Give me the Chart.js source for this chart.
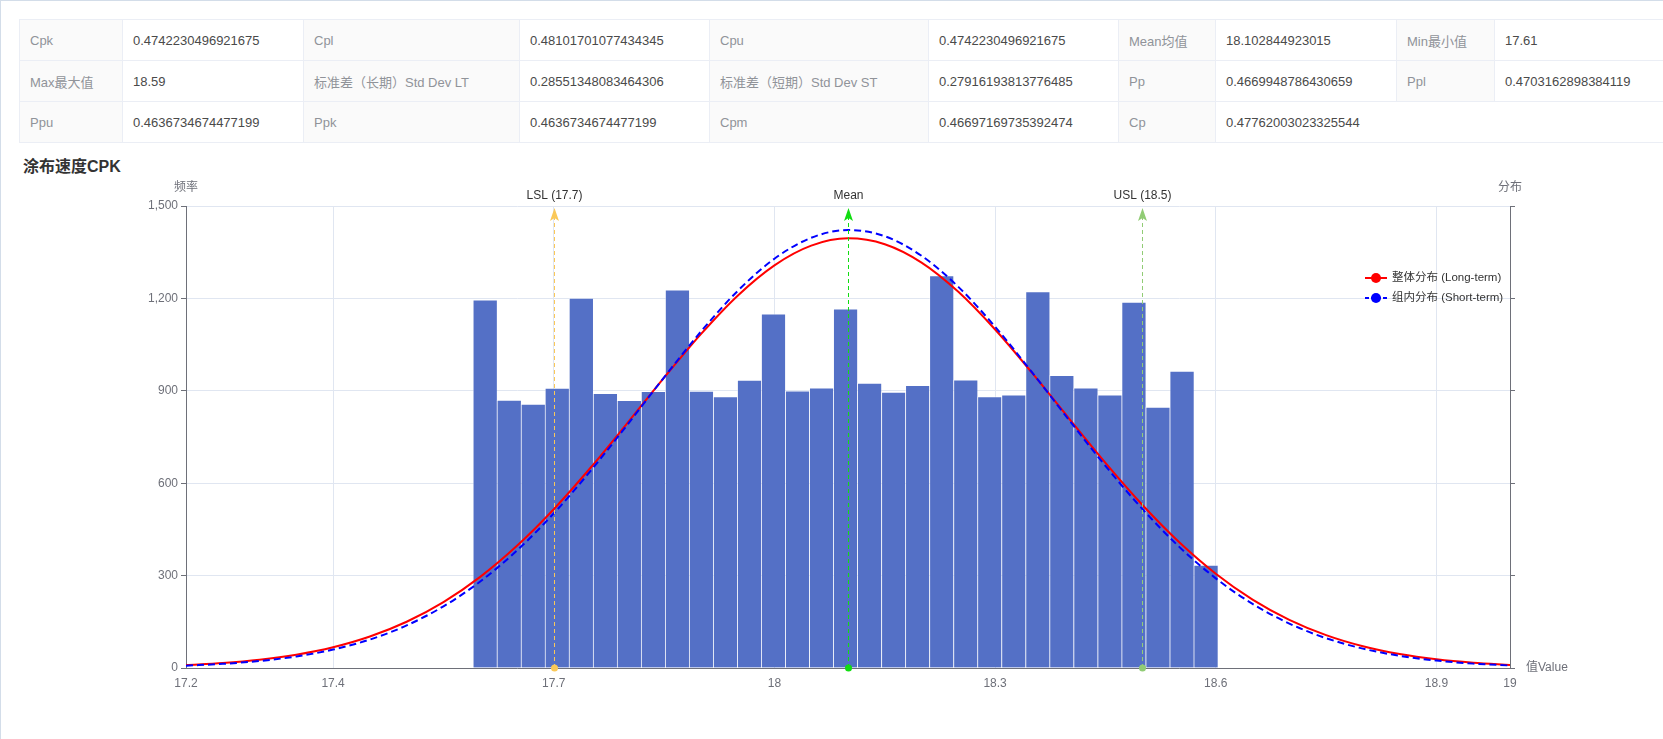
<!DOCTYPE html>
<html><head><meta charset="utf-8">
<script src="https://cdn.jsdelivr.net/npm/chart.js@4.4.0/dist/chart.umd.min.js"></script>
<style>
html,body{margin:0;padding:0;background:#fff;width:1663px;height:739px;overflow:hidden;}
body{font-family:"Liberation Sans","Noto Sans CJK SC",sans-serif;}
#frame{position:absolute;left:0;top:0;width:1663px;height:739px;border-left:1px solid #d3dde9;border-top:1px solid #d3dde9;box-sizing:border-box;}
#stats{position:absolute;left:19px;top:19px;border-collapse:collapse;table-layout:fixed;width:1645px;font-size:13px;}
#stats td{border:1px solid #ebeef5;height:41px;padding:0 10px;white-space:nowrap;overflow:hidden;box-sizing:border-box;}
#stats td.k{background:#fafafa;color:#909399;}
#stats td.v{background:#fff;color:#4a4a4a;}
#title{position:absolute;left:23px;top:156px;font-size:16px;font-weight:bold;color:#333;line-height:22px;}
#c{position:absolute;left:0;top:150px;}
</style></head>
<body>
<div id="frame"></div>
<table id="stats"></table>
<div id="title">涂布速度CPK</div>
<canvas id="c" width="1663" height="589"></canvas>
<script>
// ---- table data ----
const statNames = ['Cpk','Cpl','Cpu','Mean均值','Min最小值',
  'Max最大值','标准差（长期）Std Dev LT','标准差（短期）Std Dev ST','Pp','Ppl',
  'Ppu','Ppk','Cpm','Cp'];
const statValues = ['0.4742230496921675','0.48101701077434345','0.4742230496921675','18.102844923015','17.61',
  '18.59','0.28551348083464306','0.27916193813776485','0.4669948786430659','0.4703162898384119',
  '0.4636734674477199','0.4636734674477199','0.46697169735392474','0.47762003023325544'];
const rowSizes = [5,5,4];
const colWidths = [103,181,216,190,219,190,97,181,98,170];

// ---- chart data ----
const binCenters = [17.6063,17.6390,17.6717,17.7043,17.7370,17.7697,17.8023,17.8350,17.8677,17.9003,
  17.9330,17.9657,17.9983,18.0310,18.0637,18.0963,18.1290,18.1617,18.1943,18.2270,
  18.2597,18.2923,18.3250,18.3577,18.3903,18.4230,18.4557,18.4883,18.5210,18.5537,18.5863];
const binCounts = [1195,870,857,909,1201,892,869,898,1228,899,
  881,935,1150,900,910,1166,925,896,918,1274,
  936,881,887,1222,950,910,887,1188,847,964,334];
const curveX = [17.2,17.25,17.3,17.35,17.4,17.45,17.5,17.55,17.6,17.65,17.7,17.75,17.8,17.85,17.9,17.95,
  18.0,18.05,18.1,18.15,18.2,18.25,18.3,18.35,18.4,18.45,18.5,18.55,18.6,18.65,18.7,18.75,18.8,18.85,18.9,18.95,19.0];
const longTerm = [9.4,16.1,26.8,43.2,67.4,102.2,150.2,214.0,295.9,396.7,515.6,650.1,794.9,942.6,1083.9,1208.9,
  1307.4,1371.3,1395.0,1376.0,1316.4,1221.4,1099.0,958.9,811.5,666.0,530.0,409.1,306.2,222.3,156.5,106.8,70.7,45.4,28.3,17.1,10.0];
const shortTerm = [7.6,13.4,22.8,37.5,59.8,92.4,138.2,200.2,280.8,381.6,502.1,639.8,789.6,943.7,1092.2,1224.2,
  1328.8,1396.8,1422.0,1401.8,1338.3,1237.4,1108.0,960.8,806.8,656.1,516.8,394.1,291.1,208.2,144.3,96.8,62.9,39.6,24.1,14.2,8.1];
const xTicks = [17.2,17.4,17.7,18,18.3,18.6,18.9,19];
const yTicks = [0,300,600,900,1200,1500];
const specValues = [17.7,18.1,18.5];
const specLabels = ['LSL (17.7)','Mean','USL (18.5)'];
const specColors = ['#fac858','#11dd11','#91cc75'];
const seriesNames = ['整体分布 (Long-term)','组内分布 (Short-term)'];
const axisNames = {y:'频率', y2:'分布', x:'值Value'};

// ---- build table ----
(function(){
  const t = document.getElementById('stats');
  const cg = document.createElement('colgroup');
  colWidths.forEach(w=>{const c=document.createElement('col');c.style.width=w+'px';cg.appendChild(c);});
  t.appendChild(cg);
  let idx=0;
  rowSizes.forEach(n=>{
    const tr=document.createElement('tr');
    for(let j=0;j<n;j++){
      const k=document.createElement('td');k.className='k';k.textContent=statNames[idx];
      const v=document.createElement('td');v.className='v';v.textContent=statValues[idx];
      if(n<5 && j===n-1) v.colSpan = 1 + (5-n)*2;
      tr.appendChild(k);tr.appendChild(v);idx++;
    }
    t.appendChild(tr);
  });
})();

const FONT = '"Liberation Sans","Noto Sans CJK SC",sans-serif';
Chart.defaults.font.family = FONT;
Chart.defaults.font.size = 12;

const overlay = {
  id:'overlay',
  afterDatasetsDraw(chart){
    const {ctx, chartArea:a, scales:{x}} = chart;
    ctx.save();
    specValues.forEach((v,i)=>{
      const px = Math.round(x.getPixelForValue(v))+0.5;
      const col = specColors[i];
      ctx.strokeStyle = col; ctx.lineWidth = 1; ctx.setLineDash([4,3]);
      ctx.beginPath(); ctx.moveTo(px,a.bottom); ctx.lineTo(px,a.top+12); ctx.stroke();
      ctx.setLineDash([]);
      ctx.fillStyle = col;
      ctx.beginPath();
      ctx.moveTo(px,a.top+2); ctx.lineTo(px+4.5,a.top+15); ctx.lineTo(px,a.top+12); ctx.lineTo(px-4.5,a.top+15);
      ctx.closePath(); ctx.fill();
      ctx.beginPath(); ctx.arc(px,a.bottom,3.5,0,Math.PI*2); ctx.fill();
      ctx.fillStyle = '#333'; ctx.font = '12px '+FONT;
      ctx.textAlign='center'; ctx.textBaseline='middle';
      ctx.fillText(specLabels[i], px, a.top-10);
    });
    // axis names
    ctx.fillStyle = '#6e7079'; ctx.font = '12px '+FONT; ctx.textBaseline='middle';
    ctx.textAlign='center';
    ctx.fillText(axisNames.y, a.left, a.top-18);
    ctx.fillText(axisNames.y2, a.right, a.top-18);
    ctx.textAlign='left';
    ctx.fillText(axisNames.x, a.right+16, a.bottom);
    // legend
    const x0 = a.right-145;
    const ds = chart.data.datasets;
    ctx.font = '11.5px '+FONT;
    [1,2].forEach((di,r)=>{
      const y = a.top+72+r*20;
      const d = ds[di];
      ctx.strokeStyle = d.borderColor; ctx.lineWidth = 2;
      ctx.setLineDash(d.borderDash ? [4,2] : []);
      ctx.beginPath(); ctx.moveTo(x0,y); ctx.lineTo(x0+22,y); ctx.stroke();
      ctx.setLineDash([]);
      ctx.fillStyle = d.borderColor;
      ctx.beginPath(); ctx.arc(x0+11,y,5,0,Math.PI*2); ctx.fill();
      ctx.fillStyle = '#333'; ctx.textAlign='left';
      ctx.fillText(d.label, x0+27, y);
    });
    ctx.restore();
  }
};

new Chart(document.getElementById('c'), {
  type:'bar',
  data:{datasets:[
    {type:'bar', label:axisNames.y, data:binCenters.map((x,i)=>({x:x,y:binCounts[i]})),
     backgroundColor:'#5470c6', borderColor:'rgba(255,255,255,0.4)',
     borderWidth:{top:1,left:1,right:0,bottom:0}, borderSkipped:false,
     barPercentage:1, categoryPercentage:1, order:3, yAxisID:'y'},
    {type:'line', label:seriesNames[0], data:curveX.map((x,i)=>({x:x,y:longTerm[i]})),
     borderColor:'#ff0000', borderWidth:2, pointRadius:0, cubicInterpolationMode:'monotone', fill:false, order:2, yAxisID:'y'},
    {type:'line', label:seriesNames[1], data:curveX.map((x,i)=>({x:x,y:shortTerm[i]})),
     borderColor:'#0000ff', borderWidth:2, borderDash:[7,4], pointRadius:0, cubicInterpolationMode:'monotone', fill:false, order:1, yAxisID:'y'}
  ]},
  options:{
    responsive:false, animation:false, devicePixelRatio:1,
    layout:{padding:{top:56,left:0,right:0,bottom:0}},
    plugins:{legend:{display:false}, tooltip:{enabled:false}},
    scales:{
      x:{type:'linear', min:17.2, max:19, offset:false,
        afterBuildTicks:s=>{s.ticks = xTicks.map(v=>({value:v}));},
        afterFit:s=>{s.height = 71;},
        grid:{color:'#e0e6f1', drawTicks:false, offset:false},
        border:{color:'#6e7079'},
        ticks:{color:'#6e7079', padding:8, maxRotation:0, autoSkip:false, callback:v=>String(v)}},
      y:{type:'linear', position:'left', min:0, max:1500,
        afterBuildTicks:s=>{s.ticks = yTicks.map(v=>({value:v}));},
        afterFit:s=>{s.width = 186;},
        grid:{color:'#e0e6f1', tickColor:'#6e7079', tickLength:5},
        border:{color:'#6e7079'},
        ticks:{color:'#6e7079', padding:3}},
      y2:{type:'linear', position:'right', min:0, max:1500,
        afterBuildTicks:s=>{s.ticks = yTicks.map(v=>({value:v}));},
        afterFit:s=>{s.width = 153;},
        grid:{drawOnChartArea:false, tickColor:'#6e7079', tickLength:5},
        border:{color:'#6e7079'},
        ticks:{display:false}}
    }
  },
  plugins:[overlay]
});
</script>
</body></html>
